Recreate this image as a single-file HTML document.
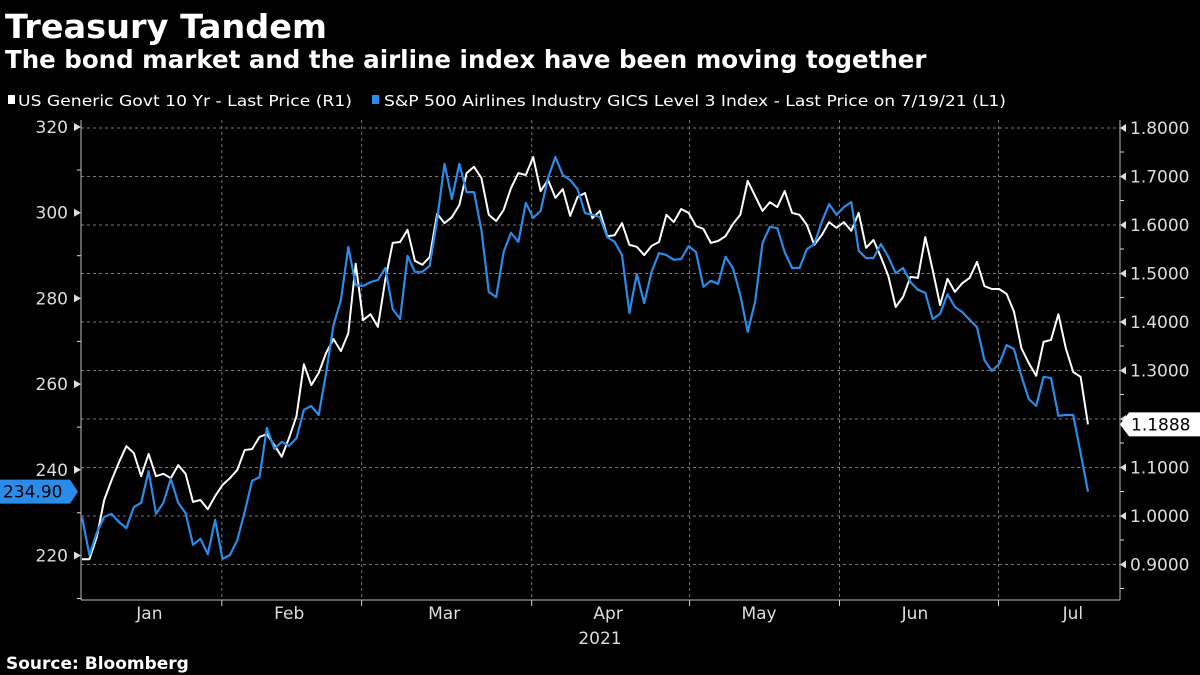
<!DOCTYPE html>
<html><head><meta charset="utf-8"><style>
html,body{margin:0;padding:0;background:#000;}
body{width:1200px;height:675px;overflow:hidden;font-family:"DejaVu Sans",sans-serif;}
svg text{font-family:"DejaVu Sans","Liberation Sans",sans-serif;}
</style></head><body>
<svg id="chart" width="1200" height="675" xmlns="http://www.w3.org/2000/svg" style="display:block">
<rect width="1200" height="675" fill="#000"/>
<text x="5" y="38" fill="#fff" font-size="33" font-weight="bold" textLength="322" lengthAdjust="spacingAndGlyphs">Treasury Tandem</text>
<text x="5" y="68" fill="#fff" font-size="24.5" font-weight="bold">The bond market and the airline index have been moving together</text>
<g font-size="15.5" fill="#fff">
<rect x="8" y="95" width="7" height="9" fill="#fff"/>
<text x="18" y="106" textLength="334" lengthAdjust="spacingAndGlyphs">US Generic Govt 10 Yr - Last Price (R1)</text>
<rect x="372" y="95" width="7" height="9" fill="#2a8ce8"/>
<text x="384" y="106" textLength="622" lengthAdjust="spacingAndGlyphs">S&amp;P 500 Airlines Industry GICS Level 3 Index - Last Price on 7/19/21 (L1)</text>
</g>
<g id="grid"></g>
<g id="axes"></g>
<g id="series"></g>
<g id="labels"></g>
<text x="6" y="669" fill="#fff" font-size="17" font-weight="bold">Source: Bloomberg</text>
</svg>
<script>
const yieldValues=[0.911,0.911,0.957,1.033,1.074,1.111,1.144,1.130,1.082,1.128,1.082,1.087,1.078,1.105,1.087,1.029,1.033,1.014,1.041,1.064,1.078,1.095,1.136,1.138,1.163,1.169,1.146,1.122,1.161,1.206,1.313,1.270,1.295,1.336,1.365,1.340,1.377,1.520,1.404,1.416,1.390,1.487,1.563,1.565,1.590,1.526,1.518,1.534,1.623,1.604,1.616,1.641,1.707,1.720,1.697,1.621,1.608,1.631,1.676,1.707,1.703,1.740,1.670,1.693,1.656,1.674,1.619,1.658,1.666,1.614,1.629,1.577,1.579,1.604,1.559,1.555,1.538,1.557,1.565,1.621,1.606,1.633,1.625,1.598,1.592,1.563,1.567,1.577,1.602,1.621,1.691,1.660,1.629,1.647,1.637,1.670,1.625,1.621,1.600,1.559,1.579,1.606,1.594,1.606,1.588,1.625,1.553,1.569,1.534,1.495,1.431,1.452,1.493,1.491,1.575,1.507,1.435,1.489,1.462,1.480,1.491,1.524,1.474,1.468,1.468,1.458,1.421,1.346,1.315,1.289,1.359,1.363,1.416,1.346,1.297,1.287,1.1888];
const airlineValues=[229.0,220.1,225.3,229.0,229.7,227.8,226.4,231.3,232.3,239.7,229.7,232.3,237.9,232.3,229.9,222.5,223.9,220.3,228.3,219.2,220.1,223.6,230.2,237.4,238.3,249.8,244.9,246.5,245.6,247.4,254.0,254.9,252.8,262.6,273.8,279.6,292.0,283.1,282.9,283.8,284.3,287.1,277.5,275.2,289.9,286.2,286.2,287.6,298.3,311.4,303.2,311.4,304.8,304.8,296.0,281.5,280.3,290.8,295.3,293.2,302.3,298.8,300.4,308.1,313.0,308.8,307.6,305.5,299.9,299.5,299.0,294.3,293.2,290.1,276.6,285.7,278.9,286.2,290.6,290.1,289.0,289.2,292.2,290.8,282.7,284.1,283.4,289.7,287.1,280.8,272.2,279.2,292.9,296.7,296.4,290.8,287.1,287.1,291.5,292.7,297.8,302.0,299.5,301.3,302.5,291.1,289.4,289.4,292.7,289.7,285.9,287.1,283.8,282.0,281.3,275.2,276.4,281.0,278.0,276.8,275.0,273.3,265.6,263.1,264.7,269.1,268.2,261.9,256.5,254.9,261.7,261.4,252.6,252.8,252.8,243.9,234.90];
const leftTicks=[220,240,260,280,300,320];
const rightTicks=[0.9,1.0,1.1,1.2,1.3,1.4,1.5,1.6,1.7,1.8];
const monthLabels=["Jan","Feb","Mar","Apr","May","Jun","Jul"];
const monthCenters=[0.067,0.206,0.36,0.523,0.673,0.828,0.985];
const monthBounds=[0.139,0.278,0.447,0.604,0.753,0.911];

const NS="http://www.w3.org/2000/svg";
const X0=82,X1=1088,PL=81,PR=1120,PT=120,PB=600;
const yL=v=>127+(320-v)*4.285;
const yR=v=>128+(1.8-v)*485;
const xi=(i,n)=>X0+(X1-X0)*i/(n-1);
const xf=f=>X0+(X1-X0)*f;
function mk(tag,attrs,parent){const e=document.createElementNS(NS,tag);for(const k in attrs)e.setAttribute(k,attrs[k]);parent.appendChild(e);return e;}
const grid=document.getElementById('grid'),axes=document.getElementById('axes'),series=document.getElementById('series'),labels=document.getElementById('labels');

rightTicks.forEach(t=>{
 const y=yR(t);
 const g=mk('line',{x1:PL,x2:PR,y1:y,y2:y,stroke:'#777','stroke-dasharray':'3,3','stroke-width':1},grid);
 
 
 const tk=mk('path',{d:`M${PR} ${y} l6 -4 v8 z`,fill:'#ddd'},axes);
 
 
 const tx=mk('text',{x:1130,y:y+6,fill:'#ddd','font-size':17},axes);
 tx.textContent=t.toFixed(4);
 
 
 const m=mk('line',{x1:PR,x2:PR+4,y1:y+24,y2:y+24,stroke:'#ddd'},axes);
 
 
});
leftTicks.forEach(t=>{
 const y=yL(t);
 const tk=mk('path',{d:`M${PL} ${y} l-7 -4 v8 z`,fill:'#ddd'},axes);
 
 
 const tx=mk('text',{x:68,y:y+6,fill:'#ddd','font-size':17,'text-anchor':'end'},axes);
 tx.textContent=t;
 
 
 const m=mk('line',{x1:PL-4,x2:PL,y1:y+43,y2:y+43,stroke:'#ddd'},axes);
 
 
});
monthBounds.forEach(f=>{
 const x=xf(f);
 const g=mk('line',{x1:x,x2:x,y1:PT,y2:PB,stroke:'#777','stroke-dasharray':'3,3'},grid);
 
 
 const t=mk('line',{x1:x,x2:x,y1:PB,y2:PB+6,stroke:'#ddd'},axes);
 
 
});
monthLabels.forEach((m,i)=>{
 const t=mk('text',{x:xf(monthCenters[i]),y:619,fill:'#ddd','font-size':17,'text-anchor':'middle'},axes);
 t.textContent=m;
 
 
});
const yr=mk('text',{x:600,y:644,fill:'#ddd','font-size':17,'text-anchor':'middle'},axes);
yr.textContent='2021';


[[PL,PT,PL,PB],[PR,PT,PR,PB],[PL,PB,PR,PB]].forEach(a=>{
 const l=mk('line',{x1:a[0],y1:a[1],x2:a[2],y2:a[3],stroke:'#bbb'},axes);
 
 
});
const pY=yieldValues.map((v,i)=>`${xi(i,yieldValues.length).toFixed(1)},${yR(v).toFixed(1)}`).join(' ');
const lw=mk('polyline',{points:pY,fill:'none',stroke:'#fff','stroke-width':2,'stroke-linejoin':'round'},series);


const pA=airlineValues.map((v,i)=>`${xi(i,airlineValues.length).toFixed(1)},${yL(v).toFixed(1)}`).join(' ');
const la=mk('polyline',{points:pA,fill:'none',stroke:'#2a8ce8','stroke-width':2.2,'stroke-linejoin':'round'},series);



const lastA=airlineValues[airlineValues.length-1], ya=yL(lastA);
const ba=mk('path',{d:`M0 ${ya-12} H70 L78 ${ya} L70 ${ya+12} H0 Z`,fill:'#2a8ce8'},labels);


const ta=mk('text',{x:3,y:ya+6,fill:'#000','font-size':17},labels);
ta.textContent=lastA.toFixed(2);


const lastY=yieldValues[yieldValues.length-1], yy=yR(lastY);
const by=mk('path',{d:`M1120 ${yy} L1129 ${yy-12} H1200 V${yy+12} H1129 Z`,fill:'#fff'},labels);


const ty=mk('text',{x:1131,y:yy+6,fill:'#000','font-size':17},labels);
ty.textContent=lastY.toFixed(4);


</script>
</body></html>
